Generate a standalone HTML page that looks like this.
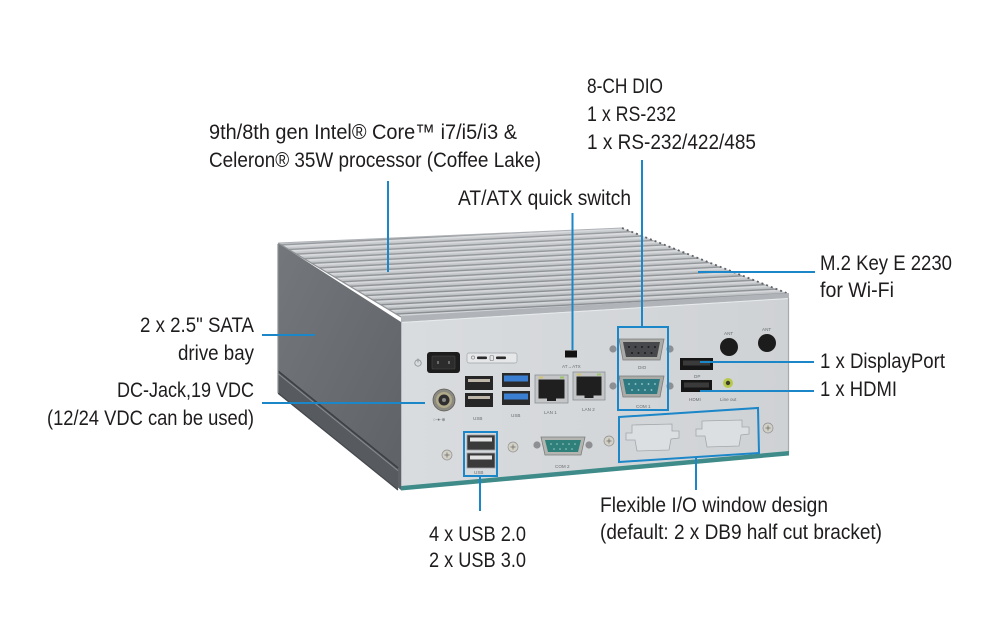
<!DOCTYPE html>
<html>
<head>
<meta charset="utf-8">
<style>
html,body{margin:0;padding:0;background:#ffffff;}
svg{display:block;}
.t{font-family:"Liberation Sans Narrow","Liberation Sans",Arial,sans-serif;font-size:21px;fill:#1f1c1d;}
.s{font-family:"Liberation Sans",Arial,sans-serif;font-size:4.6px;fill:#6a6d70;}
</style>
</head>
<body>
<svg width="1005" height="621" viewBox="0 0 1005 621" xmlns="http://www.w3.org/2000/svg">
<defs>
<pattern id="fins" width="20" height="5" patternUnits="userSpaceOnUse" patternTransform="rotate(-3)">
<rect width="20" height="5" fill="#bec1c4"/>
<rect y="0" width="20" height="1.8" fill="#d3d5d8"/>
<rect y="3.6" width="20" height="1.4" fill="#878b8f"/>
</pattern>
<linearGradient id="side" x1="0" y1="0" x2="1" y2="1">
<stop offset="0" stop-color="#74787c"/>
<stop offset="1" stop-color="#5e6266"/>
</linearGradient>
<linearGradient id="front" x1="0" y1="0" x2="1" y2="0">
<stop offset="0" stop-color="#d9dcdf"/>
<stop offset="1" stop-color="#cfd2d5"/>
</linearGradient>
<linearGradient id="topshade" x1="0" y1="0" x2="0" y2="1">
<stop offset="0" stop-color="#ffffff" stop-opacity="0.15"/>
<stop offset="1" stop-color="#ffffff" stop-opacity="0"/>
</linearGradient>
</defs>

<!-- ===== Device body ===== -->
<polygon points="278,243 401,322 401,490 278,393" fill="url(#side)"/>
<polygon points="278,371 398,468 398,490 278,394" fill="#575b5f"/>
<line x1="278" y1="371" x2="398" y2="468" stroke="#3c4044" stroke-width="1.5"/>
<line x1="278" y1="373.6" x2="398" y2="470.6" stroke="#8a8e92" stroke-width="1"/>
<line x1="278" y1="393" x2="398" y2="490" stroke="#45494d" stroke-width="1.2"/>
<line x1="278" y1="244" x2="278" y2="393" stroke="#8c9094" stroke-width="1.2"/>

<polygon points="278,243 622,228 789,294 401,317" fill="url(#fins)"/>
<polygon points="278,243 622,228 789,294 401,317" fill="url(#topshade)"/>
<line x1="278" y1="243" x2="401" y2="317" stroke="#8f9397" stroke-width="1.2"/>
<line x1="622" y1="228" x2="789" y2="294" stroke="#5f6367" stroke-width="1.8" stroke-dasharray="2,3"/>
<line x1="278" y1="243" x2="622" y2="228" stroke="#aeb2b6" stroke-width="1"/>
<polygon points="401,316 789,293 789,299 401,323" fill="#b0b4b8"/>

<polygon points="401,322 789,298 789,455 401,490" fill="url(#front)"/>
<line x1="401" y1="322.5" x2="789" y2="298.5" stroke="#e8eaec" stroke-width="1"/>
<line x1="788.5" y1="298" x2="788.5" y2="455" stroke="#a7abaf" stroke-width="1.2"/>
<line x1="401.5" y1="322" x2="401.5" y2="490" stroke="#b9bcc0" stroke-width="1"/>
<polygon points="401,486 789,451 789,455.5 401,490.5" fill="#3e8b89"/>

<!-- power icon + button -->
<circle cx="418" cy="363" r="3.2" fill="none" stroke="#8a8d90" stroke-width="0.8"/>
<line x1="418" y1="358.5" x2="418" y2="362.5" stroke="#8a8d90" stroke-width="0.8"/>
<rect x="427" y="352" width="33" height="21" rx="3" fill="#1d1d1d"/>
<rect x="432" y="356" width="23" height="13" rx="1" fill="#2c2c2c" stroke="#4a4a4a" stroke-width="0.6"/>
<rect x="437" y="361" width="2" height="3" fill="#6a6a6a"/>
<rect x="448" y="361" width="2" height="3" fill="#6a6a6a"/>

<!-- LED panel -->
<rect x="467" y="353" width="50" height="10" rx="2" fill="#e5e7e9" stroke="#a0a4a8" stroke-width="0.7"/>
<circle cx="473" cy="357.5" r="1.6" fill="none" stroke="#777" stroke-width="0.6"/>
<rect x="477" y="356.5" width="10" height="2.6" rx="1" fill="#2a2a2a"/>
<rect x="490" y="355.5" width="3.5" height="5" rx="1" fill="none" stroke="#777" stroke-width="0.6"/>
<rect x="496" y="356.5" width="10" height="2.6" rx="1" fill="#2a2a2a"/>

<!-- AT/ATX switch -->
<rect x="565" y="350.5" width="12" height="7" fill="#121212"/>
<text class="s" x="562" y="368">AT→ATX</text>

<!-- USB black top stack -->
<rect x="465" y="376" width="28" height="14" fill="#262626"/>
<rect x="468" y="379" width="22" height="3" fill="#bdb6a9"/>
<rect x="465" y="393" width="28" height="14" fill="#262626"/>
<rect x="468" y="396" width="22" height="3" fill="#bdb6a9"/>
<text class="s" x="473" y="420">USB</text>

<!-- USB 3.0 -->
<rect x="502" y="373" width="28" height="14" fill="#2a2a2a"/>
<rect x="504" y="375.5" width="24" height="6" fill="#3b7fd2"/>
<rect x="502" y="391" width="28" height="14" fill="#2a2a2a"/>
<rect x="504" y="393.5" width="24" height="6" fill="#3b7fd2"/>
<text class="s" x="511" y="417">USB</text>

<!-- LAN ports -->
<rect x="535" y="375" width="33" height="28" fill="#c3c5c7" stroke="#8d9094" stroke-width="0.8"/>
<rect x="538.5" y="379.5" width="26" height="19" fill="#1f1f1f"/>
<rect x="547" y="397" width="9" height="4" fill="#1f1f1f"/>
<rect x="539" y="376.5" width="4" height="2" fill="#d6c46a"/>
<rect x="560" y="376.5" width="4" height="2" fill="#9cc46b"/>
<text class="s" x="544" y="414">LAN 1</text>

<rect x="573" y="372" width="32" height="28" fill="#c3c5c7" stroke="#8d9094" stroke-width="0.8"/>
<rect x="576.5" y="376.5" width="25" height="19" fill="#1f1f1f"/>
<rect x="584.5" y="394" width="9" height="4" fill="#1f1f1f"/>
<rect x="577" y="373.5" width="4" height="2" fill="#d6c46a"/>
<rect x="597" y="373.5" width="4" height="2" fill="#9cc46b"/>
<text class="s" x="582" y="411">LAN 2</text>

<!-- DC jack -->
<circle cx="444" cy="400" r="11" fill="#8b8a80" stroke="#5d5d58" stroke-width="0.8"/>
<circle cx="444" cy="400" r="8" fill="#b0aa8a"/>
<circle cx="444" cy="400" r="5.5" fill="#2e2e2e"/>
<circle cx="444" cy="400" r="2" fill="#8a8a8a"/>
<text class="s" x="433" y="421">○-●-⊕</text>

<!-- screws -->
<g stroke="#8d8f90" stroke-width="0.7">
<circle cx="447" cy="455" r="5" fill="#d3d0c6"/>
<circle cx="513" cy="447" r="5" fill="#d3d0c6"/>
<circle cx="609" cy="441" r="5" fill="#d3d0c6"/>
<circle cx="768" cy="428" r="5" fill="#d3d0c6"/>
</g>
<g stroke="#6d6e6e" stroke-width="0.8">
<line x1="444.5" y1="455" x2="449.5" y2="455"/><line x1="447" y1="452.5" x2="447" y2="457.5"/>
<line x1="510.5" y1="447" x2="515.5" y2="447"/><line x1="513" y1="444.5" x2="513" y2="449.5"/>
<line x1="606.5" y1="441" x2="611.5" y2="441"/><line x1="609" y1="438.5" x2="609" y2="443.5"/>
<line x1="765.5" y1="428" x2="770.5" y2="428"/><line x1="768" y1="425.5" x2="768" y2="430.5"/>
</g>

<!-- lower USB stack -->
<rect x="467" y="435" width="28" height="15" fill="#3a3a3a" stroke="#9ea1a4" stroke-width="0.8"/>
<rect x="470" y="437.5" width="22" height="4" fill="#e3e3e3"/>
<rect x="467" y="453" width="28" height="15" fill="#3a3a3a" stroke="#9ea1a4" stroke-width="0.8"/>
<rect x="470" y="455.5" width="22" height="4" fill="#e3e3e3"/>
<text class="s" x="474" y="474">USB</text>

<!-- COM2 -->
<circle cx="537" cy="445" r="3.6" fill="#8d8f92"/>
<circle cx="589" cy="445" r="3.6" fill="#8d8f92"/>
<path d="M541,437 h44 l-4,18 h-36 z" fill="#b4b5b0" stroke="#7b7d7e" stroke-width="0.8"/>
<path d="M545,440 h36 l-3,12 h-30 z" fill="#2f7f7b"/>
<g fill="#9fcfc6">
<circle cx="551" cy="444" r="0.8"/><circle cx="557" cy="444" r="0.8"/><circle cx="563" cy="444" r="0.8"/><circle cx="569" cy="444" r="0.8"/><circle cx="575" cy="444" r="0.8"/>
<circle cx="554" cy="449" r="0.8"/><circle cx="560" cy="449" r="0.8"/><circle cx="566" cy="449" r="0.8"/><circle cx="572" cy="449" r="0.8"/>
</g>
<text class="s" x="555" y="468">COM 2</text>

<!-- DIO -->
<circle cx="613" cy="349" r="3.6" fill="#8d8f92"/>
<circle cx="670" cy="349" r="3.6" fill="#8d8f92"/>
<path d="M619,339 h45 l-4,21 h-37 z" fill="#aaaba7" stroke="#7b7d7e" stroke-width="0.8"/>
<path d="M623,342 h37 l-3,15 h-31 z" fill="#46484c"/>
<g fill="#1c1c1c">
<circle cx="629" cy="347" r="1"/><circle cx="635.5" cy="347" r="1"/><circle cx="642" cy="347" r="1"/><circle cx="648.5" cy="347" r="1"/><circle cx="655" cy="347" r="1"/>
<circle cx="632" cy="353" r="1"/><circle cx="638.5" cy="353" r="1"/><circle cx="645" cy="353" r="1"/><circle cx="651.5" cy="353" r="1"/>
</g>
<text class="s" x="638" y="369">DIO</text>

<!-- COM1 -->
<circle cx="613" cy="386" r="3.6" fill="#8d8f92"/>
<circle cx="670" cy="386" r="3.6" fill="#8d8f92"/>
<path d="M619,376 h45 l-4,21 h-37 z" fill="#aaaba7" stroke="#7b7d7e" stroke-width="0.8"/>
<path d="M623,379 h37 l-3,15 h-31 z" fill="#2f7a82"/>
<g fill="#9fcfd0">
<circle cx="629" cy="384" r="0.9"/><circle cx="635.5" cy="384" r="0.9"/><circle cx="642" cy="384" r="0.9"/><circle cx="648.5" cy="384" r="0.9"/><circle cx="655" cy="384" r="0.9"/>
<circle cx="632" cy="390" r="0.9"/><circle cx="638.5" cy="390" r="0.9"/><circle cx="645" cy="390" r="0.9"/><circle cx="651.5" cy="390" r="0.9"/>
</g>
<text class="s" x="636" y="408">COM 1</text>

<!-- ANT -->
<circle cx="729" cy="347" r="9" fill="#1c1c1c"/>
<circle cx="767" cy="343" r="9" fill="#1c1c1c"/>
<text class="s" x="724" y="335">ANT</text>
<text class="s" x="762" y="331">ANT</text>

<!-- DP / HDMI / Line out -->
<rect x="680" y="358" width="33" height="12" fill="#161616"/>
<rect x="683" y="360.5" width="27" height="5" fill="#3a3a3a"/>
<text class="s" x="694" y="378">DP</text>
<rect x="681" y="380" width="31" height="12" fill="#161616"/>
<rect x="684" y="382.5" width="25" height="5" fill="#3a3a3a"/>
<text class="s" x="689" y="401">HDMI</text>
<circle cx="728" cy="383" r="5" fill="#b7c94c"/>
<circle cx="728" cy="383" r="2.2" fill="#3d3d2a"/>
<text class="s" x="720" y="401">Line out</text>

<!-- flex I/O cutouts -->
<g fill="#dcdfe2" stroke="#a3a7ab" stroke-width="0.8">
<path d="M626,433 h6 v-8 l40,-1 v7 h7 v7 l-8,1 l-2,11 l-32,1 l-2,-11 l-9,0 z"/>
<path d="M696,429 h6 v-8 l40,-1 v7 h7 v7 l-8,1 l-2,11 l-32,1 l-2,-11 l-9,0 z"/>
</g>

<!-- ===== Callout boxes & lines ===== -->
<g fill="none" stroke="#1b86c8" stroke-width="2">
<rect x="618" y="327" width="50" height="83"/>
<rect x="464" y="432" width="33" height="44"/>
<polygon points="619,417 758,408 759,453 619,462"/>
<line x1="388" y1="181" x2="388" y2="272"/>
<line x1="572.5" y1="213" x2="572.5" y2="350"/>
<line x1="642" y1="160" x2="642" y2="327"/>
<line x1="698" y1="272" x2="815" y2="272"/>
<line x1="262" y1="335" x2="315" y2="335"/>
<line x1="262" y1="403" x2="425" y2="403"/>
<line x1="700" y1="362" x2="814" y2="362"/>
<line x1="700" y1="391" x2="814" y2="391"/>
<line x1="480" y1="476" x2="480" y2="511"/>
<line x1="696" y1="458" x2="696" y2="490"/>
</g>

<!-- ===== Labels ===== -->
<text class="t" x="587" y="93" textLength="76" lengthAdjust="spacingAndGlyphs">8-CH DIO</text>
<text class="t" x="587" y="121" textLength="89" lengthAdjust="spacingAndGlyphs">1 x RS-232</text>
<text class="t" x="587" y="149" textLength="169" lengthAdjust="spacingAndGlyphs">1 x RS-232/422/485</text>
<text class="t" x="209" y="139" textLength="308" lengthAdjust="spacingAndGlyphs">9th/8th gen Intel® Core™ i7/i5/i3 &amp;</text>
<text class="t" x="209" y="167" textLength="332" lengthAdjust="spacingAndGlyphs">Celeron® 35W processor (Coffee Lake)</text>
<text class="t" x="458" y="205" textLength="173" lengthAdjust="spacingAndGlyphs">AT/ATX quick switch</text>
<text class="t" x="820" y="270" textLength="132" lengthAdjust="spacingAndGlyphs">M.2 Key E 2230</text>
<text class="t" x="820" y="297" textLength="74" lengthAdjust="spacingAndGlyphs">for Wi-Fi</text>
<text class="t" x="140" y="332" textLength="114" lengthAdjust="spacingAndGlyphs">2 x 2.5" SATA</text>
<text class="t" x="178" y="360" textLength="76" lengthAdjust="spacingAndGlyphs">drive bay</text>
<text class="t" x="117" y="397" textLength="137" lengthAdjust="spacingAndGlyphs">DC-Jack,19 VDC</text>
<text class="t" x="47" y="425" textLength="207" lengthAdjust="spacingAndGlyphs">(12/24 VDC can be used)</text>
<text class="t" x="820" y="368" textLength="125" lengthAdjust="spacingAndGlyphs">1 x DisplayPort</text>
<text class="t" x="820" y="396" textLength="77" lengthAdjust="spacingAndGlyphs">1 x HDMI</text>
<text class="t" x="600" y="512" textLength="228" lengthAdjust="spacingAndGlyphs">Flexible I/O window design</text>
<text class="t" x="600" y="539" textLength="282" lengthAdjust="spacingAndGlyphs">(default: 2 x DB9 half cut bracket)</text>
<text class="t" x="429" y="541" textLength="97" lengthAdjust="spacingAndGlyphs">4 x USB 2.0</text>
<text class="t" x="429" y="567" textLength="97" lengthAdjust="spacingAndGlyphs">2 x USB 3.0</text>
</svg>
</body>
</html>
